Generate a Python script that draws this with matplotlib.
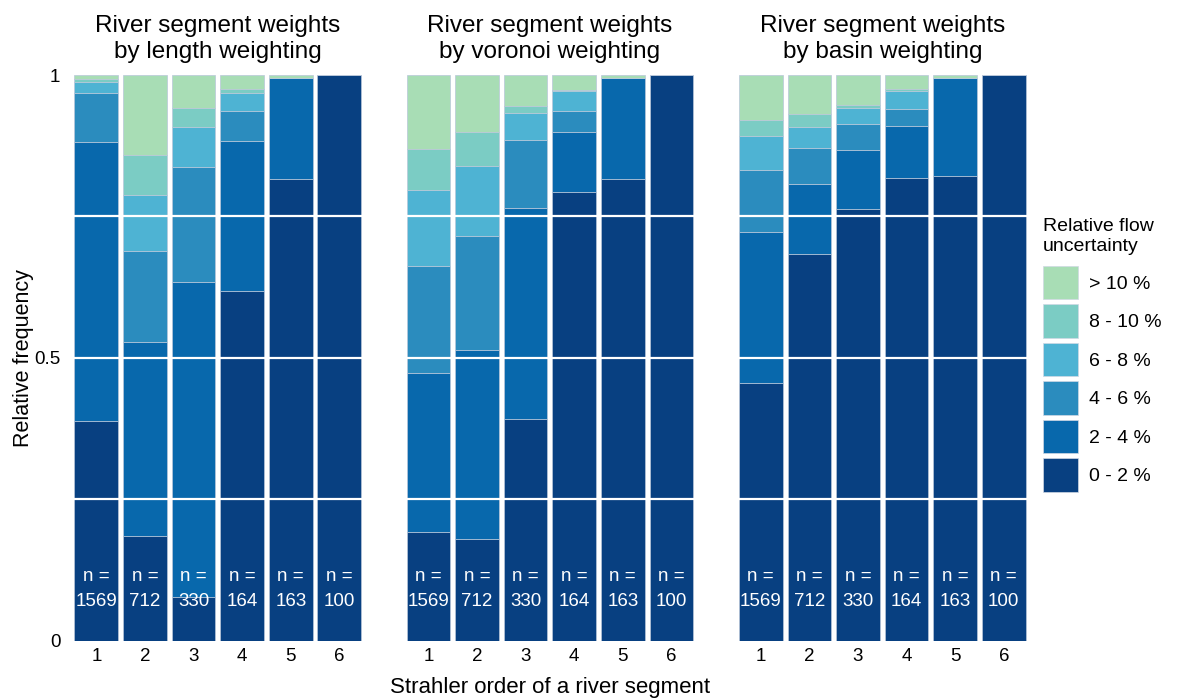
import numpy as np
import matplotlib
matplotlib.use('Agg')
import matplotlib.pyplot as plt
from matplotlib.patches import Patch

plt.rcParams['font.family'] = ['Liberation Sans', 'DejaVu Sans']

# ---- data ---------------------------------------------------------------
orders  = [1, 2, 3, 4, 5, 6]
counts  = [1569, 712, 330, 164, 163, 100]
classes = ['0 - 2 %', '2 - 4 %', '4 - 6 %', '6 - 8 %', '8 - 10 %', '> 10 %']
titles  = ['River segment weights\nby length weighting',
           'River segment weights\nby voronoi weighting',
           'River segment weights\nby basin weighting']

# shares per Strahler order, columns follow `classes`
length_shares = [[0.388, 0.494, 0.086, 0.020, 0.005, 0.007],
                 [0.186, 0.343, 0.160, 0.099, 0.071, 0.141],
                 [0.077, 0.558, 0.202, 0.072, 0.032, 0.059],
                 [0.618, 0.265, 0.053, 0.033, 0.006, 0.025],
                 [0.816, 0.179, 0.000, 0.000, 0.000, 0.005],
                 [1.000, 0.000, 0.000, 0.000, 0.000, 0.000]]
voronoi_shares = [[0.193, 0.280, 0.190, 0.134, 0.072, 0.131],
                  [0.181, 0.334, 0.201, 0.123, 0.061, 0.100],
                  [0.392, 0.373, 0.121, 0.046, 0.013, 0.055],
                  [0.794, 0.105, 0.038, 0.034, 0.003, 0.026],
                  [0.816, 0.179, 0.000, 0.000, 0.000, 0.005],
                  [1.000, 0.000, 0.000, 0.000, 0.000, 0.000]]
basin_shares = [[0.455, 0.268, 0.109, 0.060, 0.028, 0.080],
                [0.683, 0.124, 0.064, 0.038, 0.022, 0.069],
                [0.763, 0.104, 0.047, 0.027, 0.006, 0.053],
                [0.818, 0.092, 0.030, 0.032, 0.003, 0.025],
                [0.822, 0.173, 0.000, 0.000, 0.000, 0.005],
                [1.000, 0.000, 0.000, 0.000, 0.000, 0.000]]

colors = ['#084081', '#0868ac', '#2b8cbe', '#4eb3d3', '#7bccc4', '#a8ddb5']

# ---- figure -------------------------------------------------------------
fig = plt.figure(figsize=(11.77, 6.99), dpi=100)
lefts  = [0.0571, 0.3392, 0.6216]
bottom = 0.083
width  = 0.256
height = 0.8097

for k, shares in enumerate([length_shares, voronoi_shares, basin_shares]):
    ax = fig.add_axes([lefts[k], bottom, width, height])
    s = np.array(shares)
    base = np.zeros(len(orders))
    for j in range(len(classes)):
        ax.bar(orders, s[:, j], bottom=base, width=0.9, color=colors[j],
               edgecolor='#b9c7da', linewidth=0.5, zorder=2)
        base += s[:, j]
    for g in [0.25, 0.5, 0.75]:
        ax.axhline(g, color='white', lw=1.6, zorder=3)
    for x, n in zip(orders, counts):
        ax.text(x, 0.114, 'n =', color='white', ha='center', va='center',
                fontsize=13.5, zorder=4)
        ax.text(x, 0.069, str(n), color='white', ha='center', va='center',
                fontsize=13.5, zorder=4)
    ax.set_xlim(0.4, 6.6)
    ax.set_ylim(0, 1)
    ax.set_xticks(orders)
    ax.set_xticklabels([str(o) for o in orders])
    ax.set_yticks([0, 0.5, 1])
    if k == 0:
        ax.set_yticklabels(['0', '0.5', '1'])
        ax.set_ylabel('Relative frequency', fontsize=15.5, labelpad=0)
    else:
        ax.set_yticklabels([])
    ax.tick_params(length=0, labelsize=13.5, pad=5)
    for sp in ax.spines.values():
        sp.set_visible(False)
    ax.set_title(titles[k], fontsize=17.5, pad=12, linespacing=1.25)

fig.text(0.467, 0.002, 'Strahler order of a river segment', ha='center',
         va='bottom', fontsize=16)

# legend: title placed separately so its gap to the keys matches
fig.text(0.8861, 0.688, 'Relative flow\nuncertainty', ha='left', va='top',
         fontsize=14, linespacing=1.25)
handles = [Patch(facecolor=colors[j], edgecolor='#d0d8e4', linewidth=0.5)
           for j in range(len(classes) - 1, -1, -1)]
fig.legend(handles, classes[::-1], loc='upper left',
           bbox_to_anchor=(0.871, 0.645), frameon=False,
           fontsize=14, handlelength=1.8, handleheight=2.3,
           labelspacing=0.24, handletextpad=0.6)

fig.savefig('out.png', dpi=100)
